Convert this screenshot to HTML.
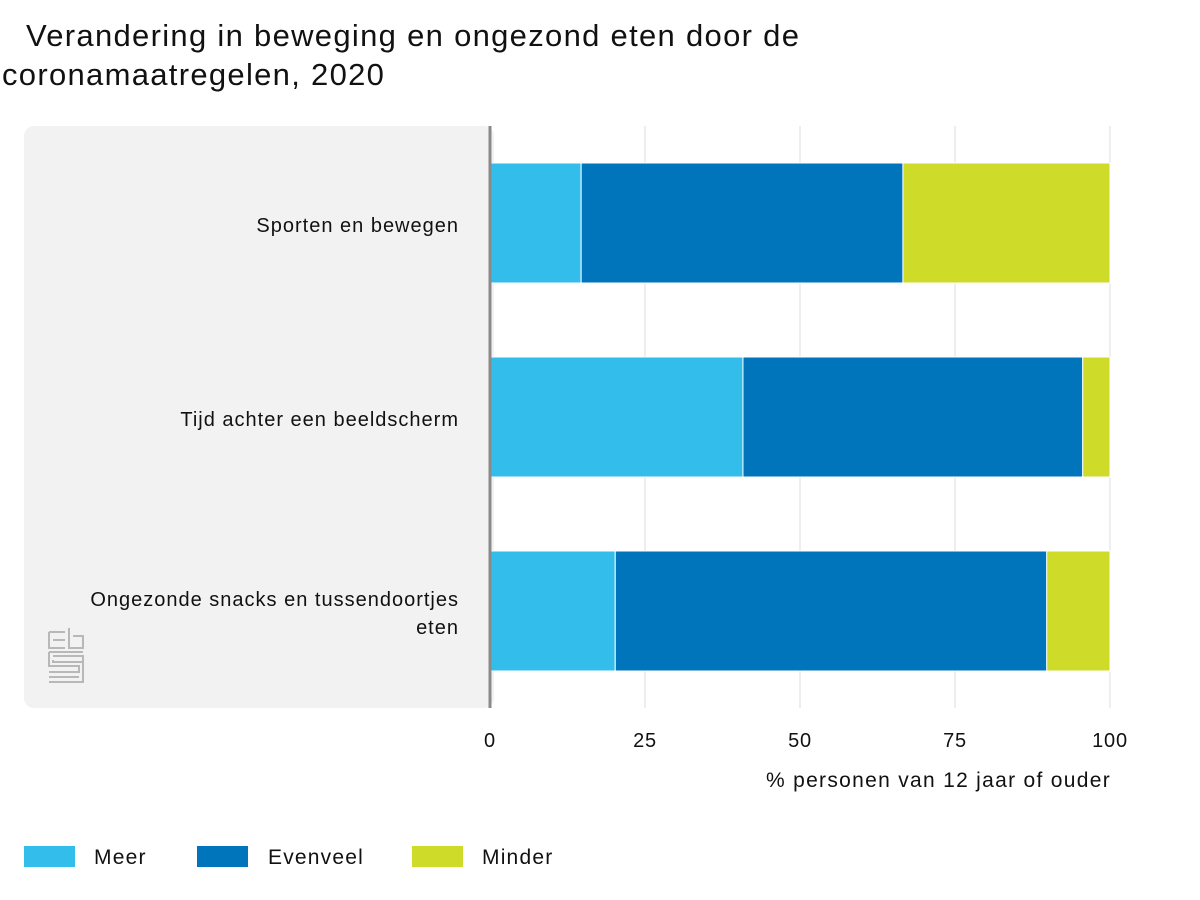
<!DOCTYPE html>
<html><head><meta charset="utf-8"><style>
body{margin:0;width:1200px;height:900px;background:#fff;font-family:"Liberation Sans",sans-serif;overflow:hidden}
</style></head><body>
<svg width="1200" height="900" style="position:absolute;left:0;top:0">
<text x="26" y="46" font-size="31" letter-spacing="1.3" fill="#111">Verandering in beweging en ongezond eten door de</text>
<text x="2" y="85" font-size="31" letter-spacing="1.3" fill="#111">coronamaatregelen, 2020</text>
<rect x="24" y="126" width="470" height="582" rx="10" fill="#f1f2f1"/>
<g fill="none" stroke="#b8b8b8" stroke-width="2">
<path d="M49,632 H65 M49,632 V648 H65 M53,640 H65 M69,628 V648 H83 V636 H73 M49,652 H83 M49,652 V666 H79 V672 H49 M53,656 H83 V682 H49 M53,660 V662 H83 M49,677 H79"/>
</g>
<g id="grid"></g><g id="bars"></g><g id="labels"></g><g id="ticks"></g>
<line x1="490" y1="126" x2="490" y2="708" stroke="#8a8a8a" stroke-width="3"/>
<text x="1111" y="787" font-size="21" letter-spacing="1.3" fill="#111" text-anchor="end">% personen van 12 jaar of ouder</text>
<g font-size="21" letter-spacing="1.2">
<rect x="24" y="846" width="51" height="21" fill="#33bdea"/>
<text x="94" y="864" fill="#111">Meer</text>
<rect x="197" y="846" width="51" height="21" fill="#0075bb"/>
<text x="268" y="864" fill="#111">Evenveel</text>
<rect x="412" y="846" width="51" height="21" fill="#cedb28"/>
<text x="482" y="864" fill="#111">Minder</text>
</g>
</svg>
<script>
const categories=[["Sporten en bewegen"],["Tijd achter een beeldscherm"],["Ongezonde snacks en tussendoortjes","eten"]];
const meer=[14.7,40.8,20.2];
const evenveel=[51.9,54.8,69.6];
const minder=[33.4,4.4,10.2];
const ticks=[0,25,50,75,100];
const NS="http://www.w3.org/2000/svg";
const x=v=>490+v*6.2;
const bandTop=i=>163+i*194, bandH=120;
function mk(t,a,p){const e=document.createElementNS(NS,t);for(const k in a)e.setAttribute(k,a[k]);document.getElementById(p).appendChild(e);return e;}
ticks.forEach(t=>{
 if(t>0){const g=mk('line',{x1:x(t),x2:x(t),y1:126,y2:708,stroke:'#dcdcdc','stroke-width':1},'grid');
 
 }
 const tx=mk('text',{x:x(t),y:747,'font-size':20,'letter-spacing':0.8,fill:'#111','text-anchor':'middle'},'ticks');
 tx.textContent=t;
 
 
});
const series=[[meer,'#33bdea','meer'],[evenveel,'#0075bb','evenveel'],[minder,'#cedb28','minder']];
categories.forEach((c,i)=>{
 let acc=0;
 series.forEach(([arr,col,nm])=>{
  const r=mk('rect',{x:x(acc),y:bandTop(i),width:x(acc+arr[i])-x(acc),height:bandH,fill:col,stroke:'#fff','stroke-width':1},'bars');
  
  
  acc+=arr[i];
 });
 const cy=bandTop(i)+bandH/2+9-(c.length-1)*14;
 c.forEach((ln,j)=>{
  const t=mk('text',{x:459,y:cy+j*28,'font-size':20,'letter-spacing':1,fill:'#111','text-anchor':'end'},'labels');
  t.textContent=ln;
  
  
 });
});
</script>
</body></html>
